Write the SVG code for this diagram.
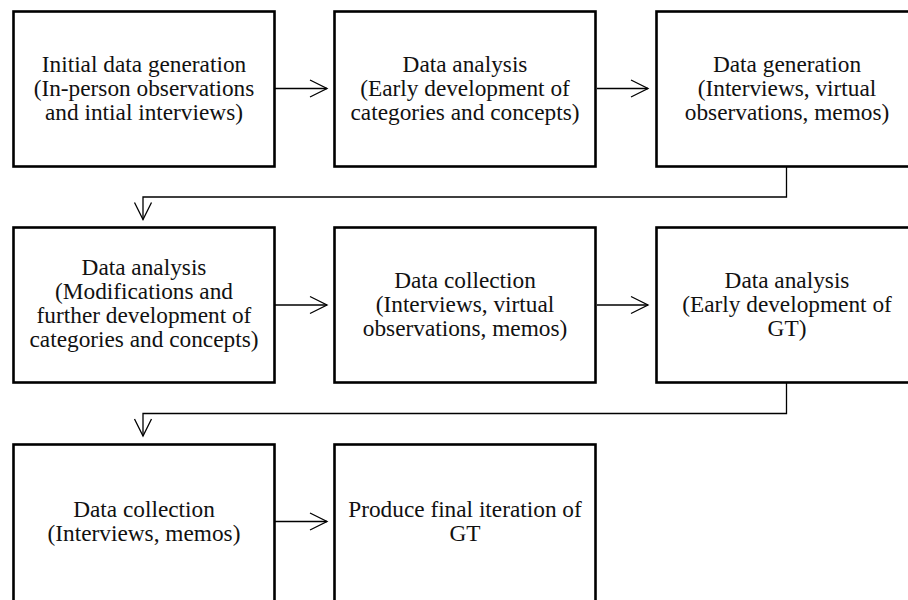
<svg xmlns="http://www.w3.org/2000/svg" width="908" height="600" viewBox="0 0 908 600">
  <defs>
    <style>
      .box { fill: #ffffff; stroke: #000000; stroke-width: 2.6; }
      .lbl { font-size: 23.3px; fill: #111111; text-anchor: middle; }
      .link { fill: none; stroke: #000000; stroke-width: 1.3; }
    </style>
    <marker id="open-arrow" markerUnits="userSpaceOnUse" markerWidth="20" markerHeight="20" refX="17" refY="8.5" orient="auto" overflow="visible">
      <path d="M0,0 L17,8.5 L0,17" fill="none" stroke="#000000" stroke-width="1.3"/>
    </marker>
  </defs>
  <rect width="908" height="600" fill="#ffffff"/>

  <!-- connectors -->
  <g id="connectors">
    <path class="link" d="M275,88.5 H327" marker-end="url(#open-arrow)"/>
    <path class="link" d="M597,88.5 H648" marker-end="url(#open-arrow)"/>
    <path class="link" d="M786.5,167 V197 H143 V219.5" marker-end="url(#open-arrow)"/>
    <path class="link" d="M275,305 H327" marker-end="url(#open-arrow)"/>
    <path class="link" d="M597,305 H648" marker-end="url(#open-arrow)"/>
    <path class="link" d="M786.5,383 V413.5 H143 V436" marker-end="url(#open-arrow)"/>
    <path class="link" d="M275,521.5 H327" marker-end="url(#open-arrow)"/>
  </g>

  <g font-family="Liberation Serif, DejaVu Serif, serif">
  <!-- row 1 -->
  <g id="node-initial-generation">
    <rect class="box" x="13.5" y="11.5" width="261" height="155"/>
    <text class="lbl" x="144" y="72">Initial data generation</text>
    <text class="lbl" x="144" y="96">(In-person observations</text>
    <text class="lbl" x="144" y="120">and intial interviews)</text>
  </g>
  <g id="node-analysis-early">
    <rect class="box" x="334.5" y="11.5" width="261" height="155"/>
    <text class="lbl" x="465" y="72">Data analysis</text>
    <text class="lbl" x="465" y="96">(Early development of</text>
    <text class="lbl" x="465" y="120">categories and concepts)</text>
  </g>
  <g id="node-generation">
    <rect class="box" x="656.5" y="11.5" width="261" height="155"/>
    <text class="lbl" x="787" y="72">Data generation</text>
    <text class="lbl" x="787" y="96">(Interviews, virtual</text>
    <text class="lbl" x="787" y="120">observations, memos)</text>
  </g>

  <!-- row 2 -->
  <g id="node-analysis-modifications">
    <rect class="box" x="13.5" y="227.5" width="261" height="155"/>
    <text class="lbl" x="144" y="275">Data analysis</text>
    <text class="lbl" x="144" y="299">(Modifications and</text>
    <text class="lbl" x="144" y="323">further development of</text>
    <text class="lbl" x="144" y="347">categories and concepts)</text>
  </g>
  <g id="node-collection-virtual">
    <rect class="box" x="334.5" y="227.5" width="261" height="155"/>
    <text class="lbl" x="465" y="288">Data collection</text>
    <text class="lbl" x="465" y="312">(Interviews, virtual</text>
    <text class="lbl" x="465" y="336">observations, memos)</text>
  </g>
  <g id="node-analysis-gt">
    <rect class="box" x="656.5" y="227.5" width="261" height="155"/>
    <text class="lbl" x="787" y="288">Data analysis</text>
    <text class="lbl" x="787" y="312">(Early development of</text>
    <text class="lbl" x="787" y="336">GT)</text>
  </g>

  <!-- row 3 (boxes run past the bottom edge) -->
  <g id="node-collection-memos">
    <rect class="box" x="13.5" y="444.5" width="261" height="160"/>
    <text class="lbl" x="144" y="517">Data collection</text>
    <text class="lbl" x="144" y="541">(Interviews, memos)</text>
  </g>
  <g id="node-final-gt">
    <rect class="box" x="334.5" y="444.5" width="261" height="160"/>
    <text class="lbl" x="465" y="517">Produce final iteration of</text>
    <text class="lbl" x="465" y="541">GT</text>
  </g>
  </g>
</svg>
